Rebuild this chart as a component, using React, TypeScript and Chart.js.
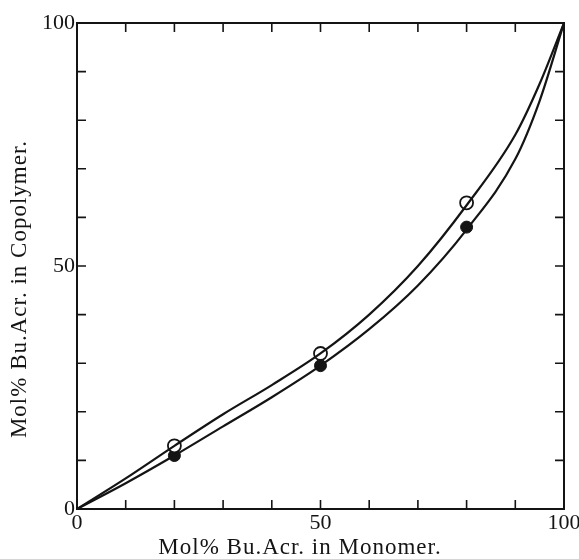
import React, { useEffect, useRef } from 'react';
import { Chart, registerables } from 'chart.js';

Chart.register(...registerables);

// Curve readings (Mol% Bu.Acr. in monomer -> in copolymer)
const monomerX = [0, 10, 20, 30, 40, 50, 60, 70, 80, 90, 95, 100];
const upperCurve = [0, 6.3, 13, 19.5, 25.5, 32, 40, 50, 62.5, 77, 87.5, 100];
const lowerCurve = [0, 5.3, 11, 17, 23, 29.5, 37, 46, 57.5, 72, 84, 100];

// Measured points
const openX = [20, 50, 80];
const openY = [13, 32, 63];
const filledX = [20, 50, 80];
const filledY = [11, 29.5, 58];

// Axis ticks
const tickValues = [0, 10, 20, 30, 40, 50, 60, 70, 80, 90, 100];
const labeledTicks = [0, 50, 100];

const xTitle = 'Mol% Bu.Acr. in Monomer.';
const yTitle = 'Mol% Bu.Acr. in Copolymer.';

const INK = '#141414';
const FONT = '"Liberation Serif", "Times New Roman", serif';

const framePlugin = {
  id: 'frameAndTitles',
  afterDraw(chart: any) {
    const { ctx, chartArea } = chart;
    const xs = chart.scales.x;
    const ys = chart.scales.y;
    const { left, right, top, bottom } = chartArea;
    ctx.save();
    ctx.strokeStyle = INK;
    ctx.lineWidth = 2;
    ctx.beginPath();
    ctx.moveTo(left, top);
    ctx.lineTo(right, top);
    ctx.lineTo(right, bottom);
    ctx.stroke();
    // inward ticks on all sides
    const tl = 9;
    ctx.lineWidth = 1.6;
    ctx.beginPath();
    for (const v of tickValues) {
      if (v === 0 || v === 100) continue;
      const px = xs.getPixelForValue(v);
      ctx.moveTo(px, bottom);
      ctx.lineTo(px, bottom - tl);
      ctx.moveTo(px, top);
      ctx.lineTo(px, top + tl);
      const py = ys.getPixelForValue(v);
      ctx.moveTo(left, py);
      ctx.lineTo(left + tl, py);
      ctx.moveTo(right, py);
      ctx.lineTo(right - tl, py);
    }
    ctx.stroke();
    // titles
    ctx.fillStyle = INK;
    ctx.font = `23px ${FONT}`;
    try { (ctx as any).letterSpacing = '1px'; } catch (e) {}
    ctx.textAlign = 'center';
    ctx.textBaseline = 'alphabetic';
    ctx.fillText(xTitle, 300, 554);
    ctx.translate(20, 289);
    ctx.rotate(-Math.PI / 2);
    ctx.textBaseline = 'middle';
    ctx.fillText(yTitle, 0, 0);
    ctx.restore();
  },
};

function toXY(xs: number[], ys: number[]) {
  return xs.map((x, i) => ({ x, y: ys[i] }));
}

export default function App() {
  const ref = useRef<HTMLCanvasElement>(null);
  useEffect(() => {
    if (!ref.current) return;
    const tickCallback = (v: any) => (labeledTicks.includes(Number(v)) ? String(v) : '');
    const chart = new Chart(ref.current, {
      type: 'scatter',
      data: {
        datasets: [
          {
            data: toXY(monomerX, upperCurve),
            showLine: true,
            borderColor: INK,
            borderWidth: 2.2,
            pointRadius: 0,
            cubicInterpolationMode: 'monotone',
          } as any,
          {
            data: toXY(monomerX, lowerCurve),
            showLine: true,
            borderColor: INK,
            borderWidth: 2.2,
            pointRadius: 0,
            cubicInterpolationMode: 'monotone',
          } as any,
          {
            data: toXY(openX, openY),
            showLine: false,
            pointRadius: 6.5,
            pointBackgroundColor: '#ffffff',
            pointBorderColor: INK,
            pointBorderWidth: 1.8,
          },
          {
            data: toXY(filledX, filledY),
            showLine: false,
            pointRadius: 6,
            pointBackgroundColor: INK,
            pointBorderColor: INK,
            pointBorderWidth: 1,
          },
        ],
      },
      options: {
        responsive: false,
        animation: false,
        layout: { padding: { top: 23, right: 15, left: 0, bottom: 0 } },
        plugins: { legend: { display: false }, tooltip: { enabled: false } },
        scales: {
          x: {
            type: 'linear',
            min: 0,
            max: 100,
            grid: { display: false },
            border: { display: true, color: INK, width: 2 },
            ticks: {
              stepSize: 10,
              autoSkip: false,
              maxRotation: 0,
              padding: -7,
              color: INK,
              font: { family: FONT, size: 22 },
              callback: tickCallback,
            },
            afterFit: (s: any) => { s.height = 50; },
          },
          y: {
            type: 'linear',
            min: 0,
            max: 100,
            grid: { display: false },
            border: { display: true, color: INK, width: 2 },
            ticks: {
              stepSize: 10,
              autoSkip: false,
              padding: -6,
              color: INK,
              font: { family: FONT, size: 22 },
              callback: tickCallback,
            },
            afterFit: (s: any) => { s.width = 77; },
          },
        },
      },
      plugins: [framePlugin],
    });
    return () => chart.destroy();
  }, []);
  return (
    <div style={{ position: 'absolute', left: 0, top: 0, width: 579, height: 559, background: '#fff' }}>
      <canvas ref={ref} width={579} height={559} />
    </div>
  );
}
